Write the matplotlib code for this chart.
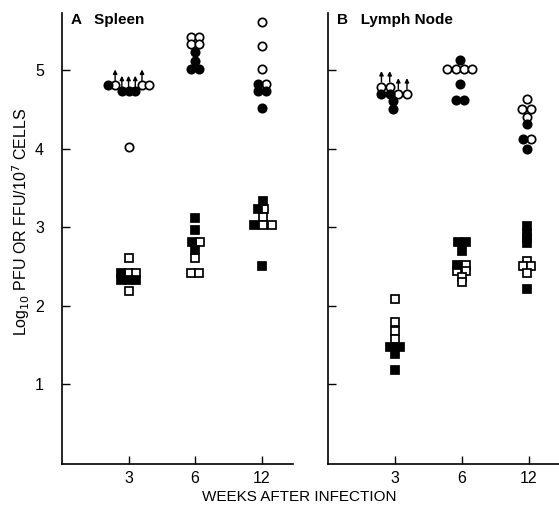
import matplotlib.pyplot as plt

plt.rcParams['font.family'] = ['Liberation Sans', 'DejaVu Sans']

weeks = ['3', '6', '12']

# each point: (week, log10 titre, horizontal slot within the week's column)
# panel A - spleen
A_open_circles = [('3', 4.81, -1.8), ('3', 4.81, 1.8), ('3', 4.81, 2.7), ('3', 4.02, 0),
                  ('6', 5.42, -0.55), ('6', 5.42, 0.55), ('6', 5.33, -0.55), ('6', 5.33, 0.55),
                  ('12', 5.62, 0), ('12', 5.31, 0), ('12', 5.02, 0), ('12', 4.83, 0.55)]
A_filled_circles = [('3', 4.81, -2.7), ('3', 4.73, -0.9), ('3', 4.73, 0), ('3', 4.73, 0.9),
                    ('6', 5.23, 0), ('6', 5.12, 0), ('6', 5.01, -0.55), ('6', 5.01, 0.55),
                    ('12', 4.83, -0.45), ('12', 4.73, -0.45), ('12', 4.73, 0.55), ('12', 4.52, 0)]
A_arrows = [('3', 4.81, -1.8), ('3', 4.73, -0.9), ('3', 4.73, 0), ('3', 4.73, 0.9), ('3', 4.81, 1.8)]
A_open_squares = [('3', 2.61, 0), ('3', 2.41, 0), ('3', 2.41, 1), ('3', 2.19, 0),
                  ('6', 2.81, 0.6), ('6', 2.61, 0), ('6', 2.41, -0.5), ('6', 2.41, 0.5),
                  ('12', 3.23, 0.35), ('12', 3.13, 0.2), ('12', 3.03, 0.2), ('12', 3.03, 1.35)]
A_filled_squares = [('3', 2.41, -1), ('3', 2.33, -1), ('3', 2.33, 0), ('3', 2.33, 1),
                    ('6', 3.12, 0), ('6', 2.96, 0), ('6', 2.81, -0.45), ('6', 2.71, 0),
                    ('12', 3.33, 0.2), ('12', 3.23, -0.55), ('12', 3.03, -1.0), ('12', 2.51, 0.1)]

# panel B - lymph node
B_open_circles = [('3', 4.79, -1.8), ('3', 4.79, -0.7), ('3', 4.70, 0.45), ('3', 4.70, 1.6),
                  ('6', 5.01, -2.0), ('6', 5.01, -0.85), ('6', 5.01, 0.27), ('6', 5.01, 1.4),
                  ('12', 4.63, -0.3), ('12', 4.51, -0.85), ('12', 4.51, 0.27), ('12', 4.41, -0.3),
                  ('12', 4.12, 0.27)]
B_filled_circles = [('3', 4.70, -1.8), ('3', 4.70, -0.7), ('3', 4.61, -0.2), ('3', 4.51, -0.2),
                    ('6', 5.13, -0.27), ('6', 4.82, -0.27), ('6', 4.62, -0.85), ('6', 4.62, 0.27),
                    ('12', 4.32, -0.2), ('12', 4.12, -0.77), ('12', 4.00, -0.3)]
B_arrows = [('3', 4.79, -1.8), ('3', 4.79, -0.7), ('3', 4.70, 0.45), ('3', 4.70, 1.6)]
B_open_squares = [('3', 2.09, 0), ('3', 1.79, 0), ('3', 1.68, 0), ('3', 1.58, 0),
                  ('6', 2.52, 0.5), ('6', 2.44, -0.6), ('6', 2.44, 0.5), ('6', 2.37, 0),
                  ('6', 2.30, 0),
                  ('12', 2.57, -0.2), ('12', 2.50, -0.8), ('12', 2.50, 0.35), ('12', 2.42, -0.2)]
B_filled_squares = [('3', 1.47, -0.7), ('3', 1.47, 0), ('3', 1.47, 0.7), ('3', 1.38, 0),
                    ('3', 1.18, 0),
                    ('6', 2.81, -0.5), ('6', 2.81, 0.5), ('6', 2.69, 0), ('6', 2.52, -0.6),
                    ('12', 3.01, -0.2), ('12', 2.93, -0.2), ('12', 2.86, -0.2), ('12', 2.80, -0.2),
                    ('12', 2.21, -0.2)]

SLOT = 0.112  # width of one slot in x units


def xy(points):
    xs = [weeks.index(w) + 1 + s * SLOT for w, v, s in points]
    ys = [v for w, v, s in points]
    return xs, ys


def draw_panel(ax, oc, fc, osq, fsq, arrows, title):
    mk = dict(linestyle='none', ms=6, mew=1.25, mec='black')
    ax.plot(*xy(osq), marker='s', mfc='white', zorder=3, **mk)
    ax.plot(*xy(fsq), marker='s', mfc='black', zorder=4, **mk)
    ax.plot(*xy(oc), marker='o', mfc='white', zorder=3, **mk)
    ax.plot(*xy(fc), marker='o', mfc='black', zorder=4, **mk)
    for x, y in zip(*xy(arrows)):
        ax.annotate('', xy=(x, y + 0.2), xytext=(x, y + 0.06),
                    arrowprops=dict(arrowstyle='-|>', lw=1.0, color='black',
                                    mutation_scale=6, shrinkA=0, shrinkB=0))
    ax.set_ylim(-0.02, 5.73)
    ax.set_xticks([1, 2, 3])
    ax.set_xticklabels(weeks)
    ax.set_yticks([1, 2, 3, 4, 5])
    ax.spines['top'].set_visible(False)
    ax.spines['right'].set_visible(False)
    for s in ['left', 'bottom']:
        ax.spines[s].set_linewidth(1.2)
    ax.tick_params(direction='in', length=6, width=1, labelsize=11.5)
    ax.tick_params(axis='x', pad=5)
    ax.tick_params(axis='y', pad=13)
    ax.text(0.14, 5.64, title, fontsize=11, fontweight='bold', va='center')


fig = plt.figure(figsize=(5.59, 5.14), dpi=100)
axA = fig.add_axes([62 / 559, 50 / 514, 231 / 559, 451 / 514])
axB = fig.add_axes([328 / 559, 50 / 514, 231 / 559, 451 / 514])

draw_panel(axA, A_open_circles, A_filled_circles, A_open_squares, A_filled_squares,
           A_arrows, 'A   Spleen')
draw_panel(axB, B_open_circles, B_filled_circles, B_open_squares, B_filled_squares,
           B_arrows, 'B   Lymph Node')
axA.set_xlim(0, 3.47)
axB.set_xlim(0, 3.45)
axB.set_yticklabels([])

fig.text(21 / 559, 1 - 222 / 514, 'Log$_{10}$ PFU OR FFU/10$^7$ CELLS', fontsize=11.5,
         rotation=90, ha='center', va='center')
fig.text(0.535, 0.033, 'WEEKS AFTER INFECTION', fontsize=11, ha='center', va='center')

fig.savefig('out.png', dpi=100)
